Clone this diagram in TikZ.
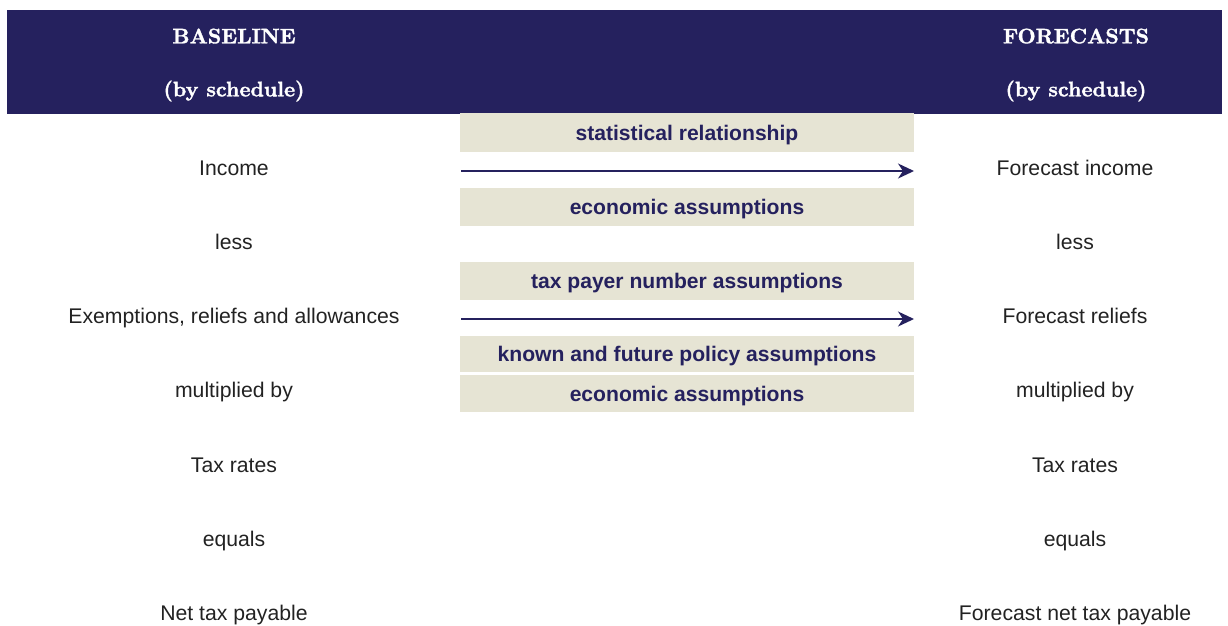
\documentclass[tikz,border=0pt]{standalone}
\usepackage{fontspec}
\newfontfamily\arialf{Liberation Sans}
\newfontfamily\hdrf{lmroman10-bold}[Extension=.otf,FakeBold=1.6]
\usetikzlibrary{arrows.meta}
\definecolor{navy}{HTML}{25215E}
\definecolor{beige}{HTML}{E6E4D4}
\definecolor{bodytxt}{HTML}{222222}
\tikzset{
  hdr/.style={text=white,font=\hdrf\fontsize{21}{24}\selectfont,inner sep=0pt,text height=14.6pt,text depth=0pt,anchor=center},
  rowtxt/.style={text=bodytxt,font=\arialf\fontsize{21.2}{24}\selectfont,inner sep=0pt,text height=15pt,text depth=0pt,anchor=center},
  asmbox/.style={fill=beige,draw=none,minimum width=454pt,inner sep=0pt,text=navy,font=\arialf\fontsize{21.1}{24}\selectfont\bfseries,text height=15pt,text depth=0pt,anchor=center},
  flow/.style={draw=navy,line width=1.8pt,-{Stealth[length=16pt,width=15pt,inset=5pt]}}
}
\begin{document}
\begin{tikzpicture}[x=1pt,y=-1pt]
\useasboundingbox (0,0) rectangle (1228,625);
% header band
\node[fill=navy,draw=none,inner sep=0pt,minimum width=1215pt,minimum height=104pt,anchor=north west] (band) at (7,10) {};
\node[hdr] (hb1) at (234,36) {BASELINE};
\node[hdr] (hb2) at (234,89) {(by schedule)};
\node[hdr] (hf1) at (1076,36) {FORECASTS};
\node[hdr] (hf2) at (1076,89) {(by schedule)};
% assumption boxes
\node[asmbox,minimum height=39pt] (b1) at (687,132.5) {statistical relationship};
\node[asmbox,minimum height=38pt] (b2) at (687,207) {economic assumptions};
\node[asmbox,minimum height=38pt] (b3) at (687,281) {tax payer number assumptions};
\node[asmbox,minimum height=36pt] (b4) at (687,354) {known and future policy assumptions};
\node[asmbox,minimum height=37pt] (b5) at (687,393.5) {economic assumptions};
% left column
\node[rowtxt] (l1) at (234,168) {Income};
\node[rowtxt] (l2) at (234,242) {less};
\node[rowtxt] (l3) at (234,316) {Exemptions, reliefs and allowances};
\node[rowtxt] (l4) at (234,390) {multiplied by};
\node[rowtxt] (l5) at (234,465) {Tax rates};
\node[rowtxt] (l6) at (234,539) {equals};
\node[rowtxt] (l7) at (234,613) {Net tax payable};
% right column
\node[rowtxt] (r1) at (1075,168) {Forecast income};
\node[rowtxt] (r2) at (1075,242) {less};
\node[rowtxt] (r3) at (1075,316) {Forecast reliefs};
\node[rowtxt] (r4) at (1075,390) {multiplied by};
\node[rowtxt] (r5) at (1075,465) {Tax rates};
\node[rowtxt] (r6) at (1075,539) {equals};
\node[rowtxt] (r7) at (1075,613) {Forecast net tax payable};
% arrows
\coordinate (a1s) at (461,171);
\coordinate (a1e) at (914,171);
\coordinate (a2s) at (461,319);
\coordinate (a2e) at (914,319);
\draw[flow] (a1s) -- (a1e);
\draw[flow] (a2s) -- (a2e);
\end{tikzpicture}
\end{document}
